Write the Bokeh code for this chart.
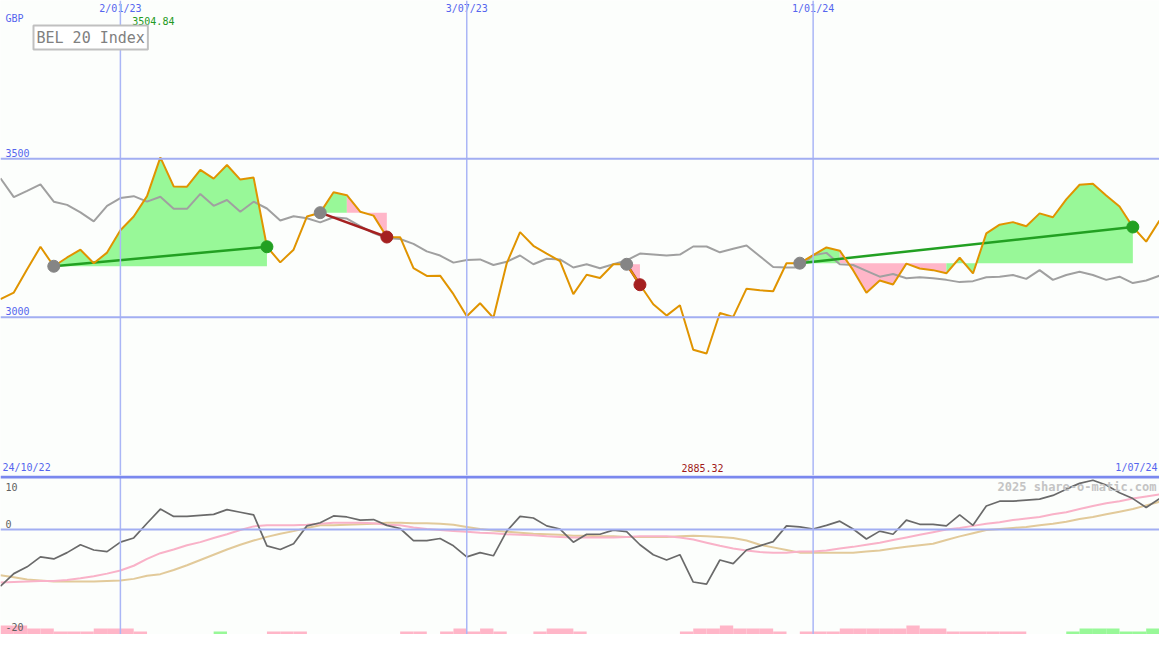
from bokeh.plotting import figure
from bokeh.layouts import column
from bokeh.models import Span, Label, Range1d
from bokeh.core.properties import value
from bokeh.embed import file_html
from bokeh.resources import INLINE

# ---------------- data ----------------
weeks = list(range(88))
price = [3057.2, 3077.8, 3151.6, 3222.3, 3160.8, 3188.5, 3213.1, 3170.1, 3203.9, 3274.6,
         3317.7, 3382.2, 3504.84, 3413.0, 3412.0, 3465.3, 3437.6, 3480.6, 3434.5, 3440.7,
         3222.3, 3173.1, 3213.1, 3317.7, 3330.0, 3394.5, 3385.3, 3333.0, 3320.7, 3253.1,
         3252.5, 3154.7, 3130.1, 3131.0, 3072.6, 3003.1, 3044.0, 2997.9, 3170.1, 3268.5,
         3225.4, 3200.8, 3177.1, 3072.6, 3134.1, 3123.9, 3167.0, 3167.0, 3102.4, 3040.9,
         3004.9, 3037.8, 2897.3, 2885.32, 3013.2, 3000.9, 3090.1, 3084.9, 3081.8, 3170.1,
         3170.5, 3195.6, 3220.2, 3210.0, 3148.5, 3076.9, 3115.6, 3103.3, 3169.1, 3153.8,
         3148.5, 3138.4, 3187.6, 3138.0, 3264.5, 3292.1, 3300.1, 3286.9, 3327.8, 3315.5,
         3372.1, 3418.2, 3421.3, 3384.4, 3349.3, 3284.7, 3238.6, 3305.4]
compare = [3438.5, 3379.2, 3399.1, 3419.1, 3364.7, 3354.6, 3330.9, 3302.3, 3351.5, 3376.1,
           3382.2, 3364.7, 3380.1, 3342.3, 3342.0, 3389.3, 3351.5, 3369.9, 3333.0, 3364.7,
           3343.2, 3305.4, 3318.6, 3312.4, 3299.2, 3315.5, 3311.5, 3287.8, 3265.4, 3250.0,
           3246.9, 3231.6, 3207.9, 3194.7, 3172.2, 3180.2, 3182.4, 3164.8, 3175.3, 3194.7,
           3167.0, 3184.5, 3182.4, 3156.8, 3167.0, 3154.7, 3167.0, 3179.3, 3200.8, 3197.7,
           3194.7, 3197.7, 3223.2, 3223.2, 3204.8, 3216.2, 3226.3, 3192.5, 3158.7, 3156.8,
           3156.8, 3195.6, 3203.0, 3167.0, 3164.8, 3146.4, 3127.9, 3136.2, 3123.0, 3126.1,
           3123.0, 3117.8, 3110.7, 3113.8, 3126.1, 3127.9, 3133.2, 3120.9, 3148.5, 3117.8,
           3133.2, 3143.3, 3133.2, 3117.8, 3127.9, 3107.6, 3115.6, 3131.0]
momentum = [-10.8, -8.4, -7.1, -5.2, -5.6, -4.4, -2.9, -3.9, -4.2, -2.4,
            -1.6, 1.2, 3.9, 2.5, 2.5, 2.7, 2.9, 3.8, 3.3, 2.8,
            -3.1, -3.8, -2.7, 0.7, 1.3, 2.6, 2.4, 1.8, 1.9, 0.8,
            0.2, -2.1, -2.1, -1.7, -3.1, -5.2, -4.4, -5.0, -0.3, 2.5,
            2.2, 0.7, 0.1, -2.4, -0.9, -0.9, -0.1, -0.4, -2.9, -4.8,
            -5.8, -4.8, -10.0, -10.4, -5.8, -6.5, -3.9, -3.1, -2.3, 0.7,
            0.5, 0.1, 0.8, 1.6, 0.1, -1.8, -0.3, -0.9, 1.8, 1.0,
            1.0, 0.7, 2.8, 0.8, 4.5, 5.4, 5.4, 5.6, 5.8, 6.5,
            7.7, 8.8, 9.4, 8.5, 7.0, 5.9, 4.2, 5.9]
avg_fast = [-10.1, -10.0, -9.9, -9.8, -9.8, -9.6, -9.3, -8.9, -8.4, -7.8,
            -6.9, -5.6, -4.5, -3.8, -3.0, -2.4, -1.6, -0.9, -0.1, 0.6,
            0.8, 0.8, 0.8, 0.9, 1.1, 1.3, 1.3, 1.3, 1.2, 0.9,
            0.8, 0.4, 0.1, -0.1, -0.3, -0.4, -0.6, -0.7, -0.9, -1.0,
            -1.1, -1.3, -1.4, -1.5, -1.5, -1.5, -1.5, -1.4, -1.3, -1.3,
            -1.3, -1.5, -1.9, -2.5, -3.1, -3.6, -4.0, -4.3, -4.4, -4.4,
            -4.2, -4.2, -4.0, -3.6, -3.3, -2.9, -2.5, -2.0, -1.5, -1.0,
            -0.5, 0.0, 0.3, 0.7, 1.1, 1.4, 1.8, 2.1, 2.4, 2.9,
            3.3, 3.9, 4.5, 5.0, 5.4, 5.9, 6.3, 6.7]
avg_slow = [-8.7, -9.1, -9.5, -9.7, -9.9, -9.9, -9.9, -9.9, -9.8, -9.7,
            -9.4, -8.8, -8.5, -7.7, -6.8, -5.8, -4.8, -3.8, -2.9, -2.1,
            -1.4, -0.8, -0.3, 0.3, 0.8, 0.8, 0.9, 1.0, 1.1, 1.3,
            1.3, 1.2, 1.2, 1.1, 0.9, 0.5, 0.1, -0.2, -0.4, -0.6,
            -0.8, -0.9, -1.0, -1.2, -1.2, -1.3, -1.3, -1.4, -1.4, -1.4,
            -1.4, -1.3, -1.2, -1.3, -1.4, -1.6, -2.1, -2.9, -3.4, -3.9,
            -4.4, -4.4, -4.4, -4.4, -4.4, -4.2, -4.0, -3.6, -3.3, -3.0,
            -2.7, -2.0, -1.3, -0.7, -0.1, 0.1, 0.3, 0.5, 0.8, 1.1,
            1.5, 2.0, 2.4, 2.9, 3.4, 3.9, 4.6, 5.3]
volume_signal = [-3, -3, -2, -2, -1, -1, -1, -2, -2, -2,
                 -1, 0, 0, 0, 0, 0, 1, 0, 0, 0,
                 -1, -1, -1, 0, 0, 0, 0, 0, 0, 0,
                 -1, -1, 0, -1, -2, -1, -2, -1, 0, 0,
                 -1, -2, -2, -1, 0, 0, 0, 0, 0, 0,
                 0, -1, -2, -2, -3, -2, -2, -2, -1, 0,
                 -1, -1, -1, -2, -2, -2, -2, -2, -3, -2,
                 -2, -1, -1, -1, -1, -1, -1, 0, 0, 0,
                 1, 2, 2, 2, 1, 1, 2, 0]

date_ticks = [9, 35, 61]
date_labels = ["2/01/23", "3/07/23", "1/01/24"]
start_label, end_label = "24/10/22", "1/07/24"
price_ticks = [3000, 3500]
osc_ticks = [10, 0, -20]

trade_entry = [4, 24, 47, 60]
trade_exit = [20, 29, 48, 85]
# (trade index, first week, last week, direction of shading)
fill_runs = [(0, 4, 20, "up"), (1, 24, 26, "up"), (1, 26, 29, "down"),
             (2, 47, 48, "down"), (3, 60, 63, "up"), (3, 63, 71, "down"),
             (3, 71, 85, "up")]

# ---------------- style ----------------
W, H1, H2 = 1159, 475, 159
BG = "#FCFEFC"
FONT = "DejaVu Sans Mono"
BLUE_TXT = "#5565EE"
GRID = "#A2AEF2"
VLINE = "#AAB6F6"
SEP = "#7A88EE"
ORANGE = "#E09400"
GREY = "#A0A0A0"
FILL_UP = "#98F898"
FILL_DN = "#FFB6C8"
WIN = "#22A022"
LOSS = "#A52020"

# ---------------- upper panel ----------------
p1 = figure(width=W, height=H1, x_range=Range1d(0, 87), y_range=Range1d(2500, 4000),
            x_axis_type=None, y_axis_type=None, output_backend="svg",
            toolbar_location=None, min_border=0, background_fill_color=BG,
            border_fill_color=BG, outline_line_color=None)
p1.grid.visible = False

for t in date_ticks:
    p1.add_layout(Span(location=t, dimension="height", line_color=VLINE, line_width=1.5))
for v in price_ticks:
    p1.add_layout(Span(location=v, dimension="width", line_color=GRID, line_width=2))

for ti, a, b, d in fill_runs:
    lvl = price[trade_entry[ti]]
    xs = weeks[a:b + 1]
    p1.varea(x=xs, y1=[lvl] * len(xs), y2=price[a:b + 1],
             fill_color=FILL_UP if d == "up" else FILL_DN, fill_alpha=1.0)

p1.line(weeks, compare, line_color=GREY, line_width=2)

win = [price[x] >= price[e] for e, x in zip(trade_entry, trade_exit)]
p1.segment(x0=trade_entry, y0=[price[e] for e in trade_entry],
           x1=trade_exit, y1=[price[x] for x in trade_exit],
           line_color=[WIN if w else LOSS for w in win], line_width=2.5)

p1.line(weeks, price, line_color=ORANGE, line_width=2)

p1.scatter(trade_entry, [price[e] for e in trade_entry], size=12, color="#858585")
p1.scatter(trade_exit, [price[x] for x in trade_exit], size=12,
           color=[WIN if w else LOSS for w in win])

tf = value(FONT)
p1.text(x=date_ticks, y=[4000] * len(date_ticks), text=date_labels, text_font=tf,
        text_font_size="10px", text_color=BLUE_TXT, text_align="center",
        text_baseline="middle", y_offset=8)
p1.text(x=[0] * len(price_ticks), y=price_ticks, text=[str(v) for v in price_ticks],
        text_font=tf, text_font_size="10px", text_color=BLUE_TXT, text_align="left",
        text_baseline="middle", x_offset=5, y_offset=-6)
p1.text(x=[0], y=[4000], text=["GBP"], text_font=tf, text_font_size="10px",
        text_color=BLUE_TXT, text_align="left", text_baseline="middle",
        x_offset=5, y_offset=18)
p1.text(x=[0], y=[2500], text=[start_label], text_font=tf, text_font_size="10px",
        text_color=BLUE_TXT, text_align="left", text_baseline="middle",
        x_offset=2, y_offset=-8)
p1.text(x=[87], y=[2500], text=[end_label], text_font=tf, text_font_size="10px",
        text_color=BLUE_TXT, text_align="right", text_baseline="middle",
        x_offset=-2, y_offset=-8)

imax = max(weeks, key=lambda i: price[i])
imin = min(weeks, key=lambda i: price[i])
p1.text(x=[imax], y=[4000], text=["%.2f" % price[imax]], text_font=tf,
        text_font_size="10px", text_color="#229922", text_align="center",
        text_baseline="middle", x_offset=-7, y_offset=20)
p1.text(x=[imin], y=[2500], text=["%.2f" % price[imin]], text_font=tf,
        text_font_size="10px", text_color="#A01818", text_align="center",
        text_baseline="middle", x_offset=-4, y_offset=-8)

p1.add_layout(Label(x=33, y=H1 - 37, x_units="screen", y_units="screen",
                    text="BEL 20 Index", text_font=FONT, text_font_size="15px",
                    text_color="#808080", text_baseline="middle",
                    border_line_color="#C0C0C0", border_line_width=2,
                    background_fill_color="#FFFFFF", padding=3))

# ---------------- lower panel ----------------
p2 = figure(width=W, height=H2, x_range=p1.x_range, y_range=Range1d(-20, 10.3),
            x_axis_type=None, y_axis_type=None, output_backend="svg",
            toolbar_location=None, min_border=0, background_fill_color=BG,
            border_fill_color=BG, outline_line_color=None)
p2.grid.visible = False
p2.extra_y_ranges = {"bars": Range1d(0, 53)}

for t in date_ticks:
    p2.add_layout(Span(location=t, dimension="height", line_color=VLINE, line_width=1.5))
p2.add_layout(Span(location=0, dimension="width", line_color=GRID, line_width=2))
p2.add_layout(Span(location=10, dimension="width", line_color=SEP, line_width=3))

bw = [w for w, s in zip(weeks, volume_signal) if s != 0]
bs = [s for s in volume_signal if s != 0]
p2.quad(left=bw, right=[w + 1 for w in bw], bottom=0, top=[abs(s) for s in bs],
        y_range_name="bars", fill_color=[FILL_UP if s > 0 else FILL_DN for s in bs],
        line_color=None)

p2.line(weeks, avg_slow, line_color="#E2CA9A", line_width=2)
p2.line(weeks, avg_fast, line_color="#F9B2C8", line_width=2)
p2.line(weeks, momentum, line_color="#6A6A6A", line_width=1.7)

p2.text(x=[0] * 3, y=osc_ticks, text=[str(v) for v in osc_ticks], text_font=tf,
        text_font_size="10px", text_color="#606060", text_align="left",
        text_baseline="middle", x_offset=5, y_offset=[10, -6, -8])
p2.text(x=[87], y=[10], text=["2025 share-o-matic.com"], text_font=tf,
        text_font_size="12px", text_font_style="bold", text_color="#C4C4C4",
        text_align="right", text_baseline="middle", x_offset=-3, y_offset=10)

layout = column(p1, p2, spacing=0)
open("out.html", "w").write(file_html(layout, INLINE))
